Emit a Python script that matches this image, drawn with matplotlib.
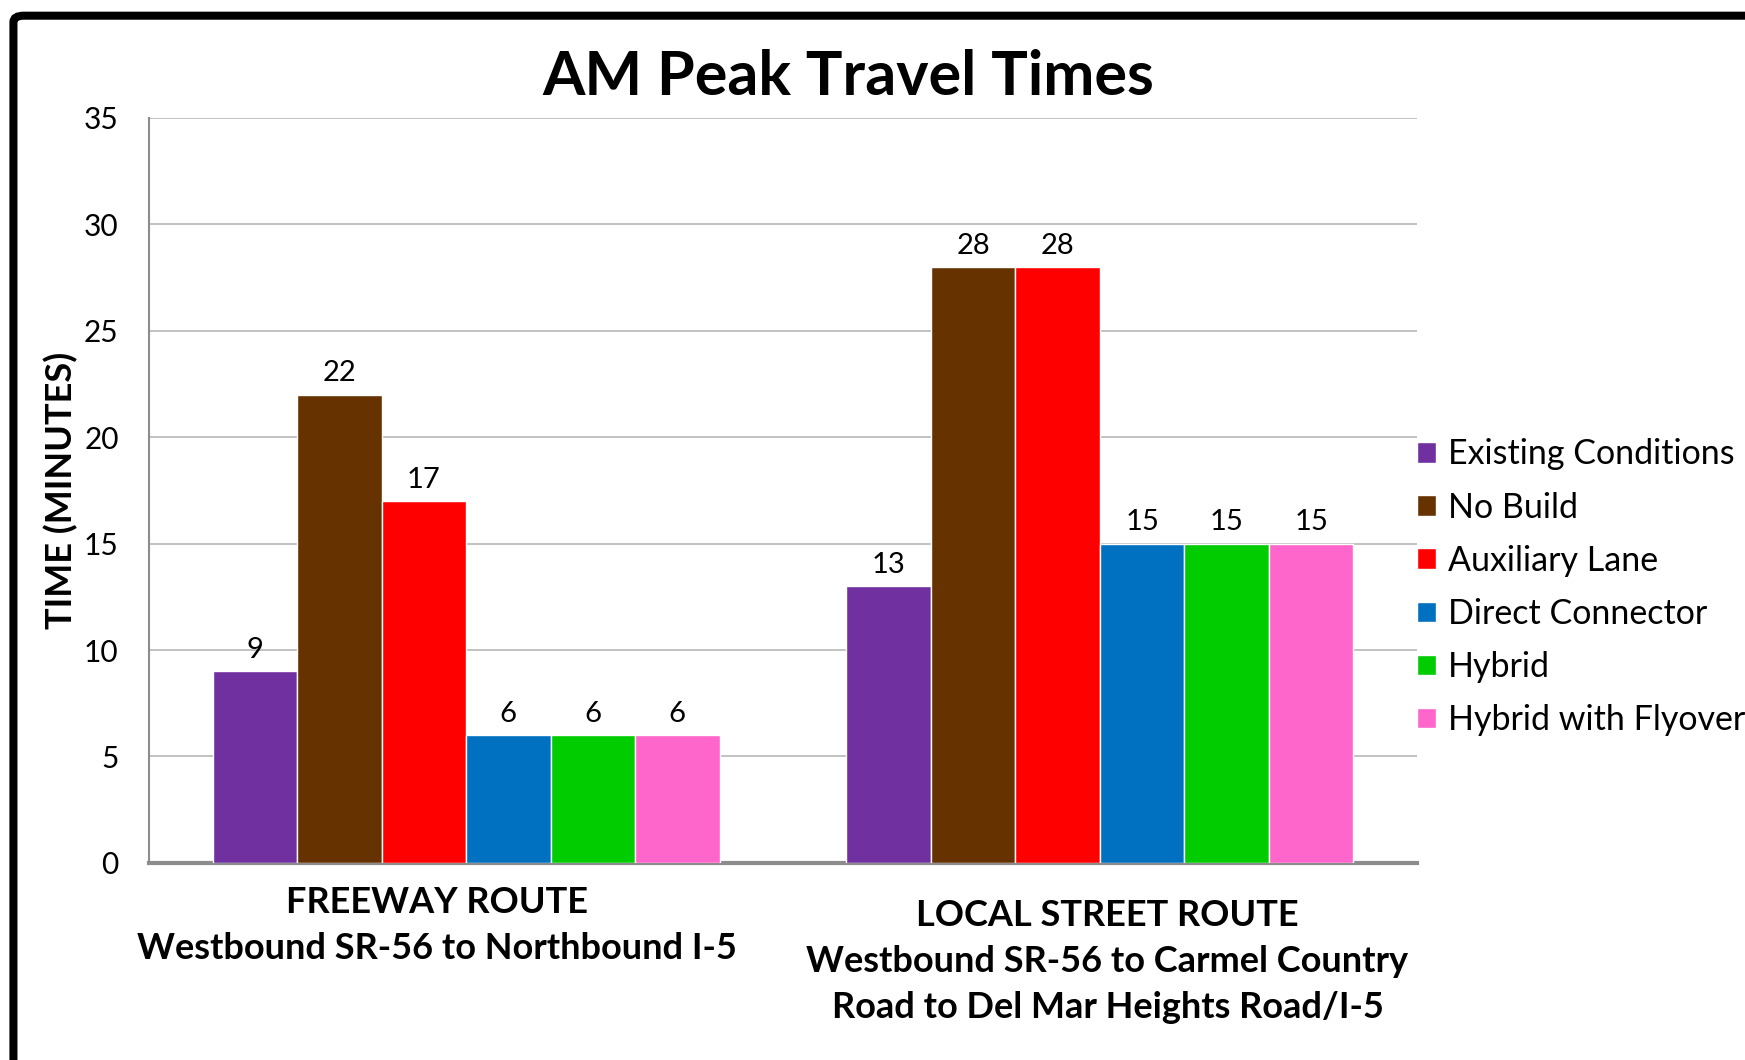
import matplotlib
matplotlib.use("Agg")
import matplotlib.pyplot as plt
import numpy as np
from matplotlib.patches import FancyBboxPatch
from matplotlib.transforms import blended_transform_factory

plt.rcParams['font.family'] = ['Lato', 'DejaVu Sans']

categories = ["FREEWAY ROUTE\nWestbound SR-56 to Northbound I-5",
              "LOCAL STREET ROUTE\nWestbound SR-56 to Carmel Country\nRoad to Del Mar Heights Road/I-5"]
series_names = ["Existing Conditions", "No Build", "Auxiliary Lane",
                "Direct Connector", "Hybrid", "Hybrid with Flyover"]
series_values = [
    [9, 13],
    [22, 28],
    [17, 28],
    [6, 15],
    [6, 15],
    [6, 15],
]
colors = ["#7030A0", "#663300", "#FF0000", "#0070C0", "#00CC00", "#FF66CC"]
yticks = [0, 5, 10, 15, 20, 25, 30, 35]

fig = plt.figure(figsize=(17.45, 10.6), dpi=100)
ax = fig.add_axes([0.0855, 0.186, 0.8119 - 0.0855, 0.8887 - 0.186])

# frame
frame = FancyBboxPatch((0.0077, -0.2), 1.3, 1.2 - 0.0148,
                       boxstyle="round,pad=0,rounding_size=0.006",
                       transform=fig.transFigure, fill=False,
                       edgecolor="black", linewidth=5.8, clip_on=False)
fig.patches.append(frame)

n = len(series_names)
group_w = 0.80
bw = group_w / n
x = np.arange(len(categories))
for i, (name, vals, c) in enumerate(zip(series_names, series_values, colors)):
    pos = x - group_w / 2 + bw * (i + 0.5)
    bars = ax.bar(pos, vals, width=bw, color=c, edgecolor="white",
                  linewidth=1.0, label=name, zorder=3)
    for b, v in zip(bars, vals):
        ax.annotate(f"{v}", (b.get_x() + b.get_width() / 2, v),
                    xytext=(0, 6), textcoords="offset points",
                    ha="center", va="bottom", fontsize=21, zorder=4)

ax.set_xlim(-0.5, 1.5)
ax.set_ylim(0, 35)
ax.set_yticks(yticks)
ax.set_yticklabels([str(t) for t in yticks], fontsize=21.5)
ax.tick_params(axis="y", length=0, pad=22)
ax.set_xticks([])
ax.yaxis.grid(True, color="#b8b8b8", linewidth=1.2, zorder=0)
ax.set_axisbelow(True)
for s in ["top", "right"]:
    ax.spines[s].set_visible(False)
ax.spines["left"].set_color("#8c8c8c")
ax.spines["left"].set_linewidth(1.5)
ax.spines["bottom"].set_color("#8c8c8c")
ax.spines["bottom"].set_linewidth(3)

ax.set_ylabel("TIME (MINUTES)", fontsize=26, fontweight="bold", labelpad=4)

trans = blended_transform_factory(ax.transData, ax.transAxes)
offsets = [-0.046, 0.012]
ytops = [-0.031, -0.049]
for xi, lab, off, yt in zip(x, categories, offsets, ytops):
    ax.text(xi + off, yt, lab, transform=trans, ha="center", va="top",
            fontsize=26, fontweight="bold", linespacing=1.48)

fig.text(0.486, 0.9275, "AM Peak Travel Times", ha="center", va="center",
         fontsize=44, fontweight="bold")

leg = ax.legend(loc="center left", frameon=False,
                fontsize=24.5, handlelength=0.55, handleheight=0.55,
                handletextpad=0.36, labelspacing=0.62, borderaxespad=0,
                borderpad=0)
leg.set_bbox_to_anchor((0.812, 0.446), transform=fig.transFigure)

fig.savefig("out.png", dpi=100)
